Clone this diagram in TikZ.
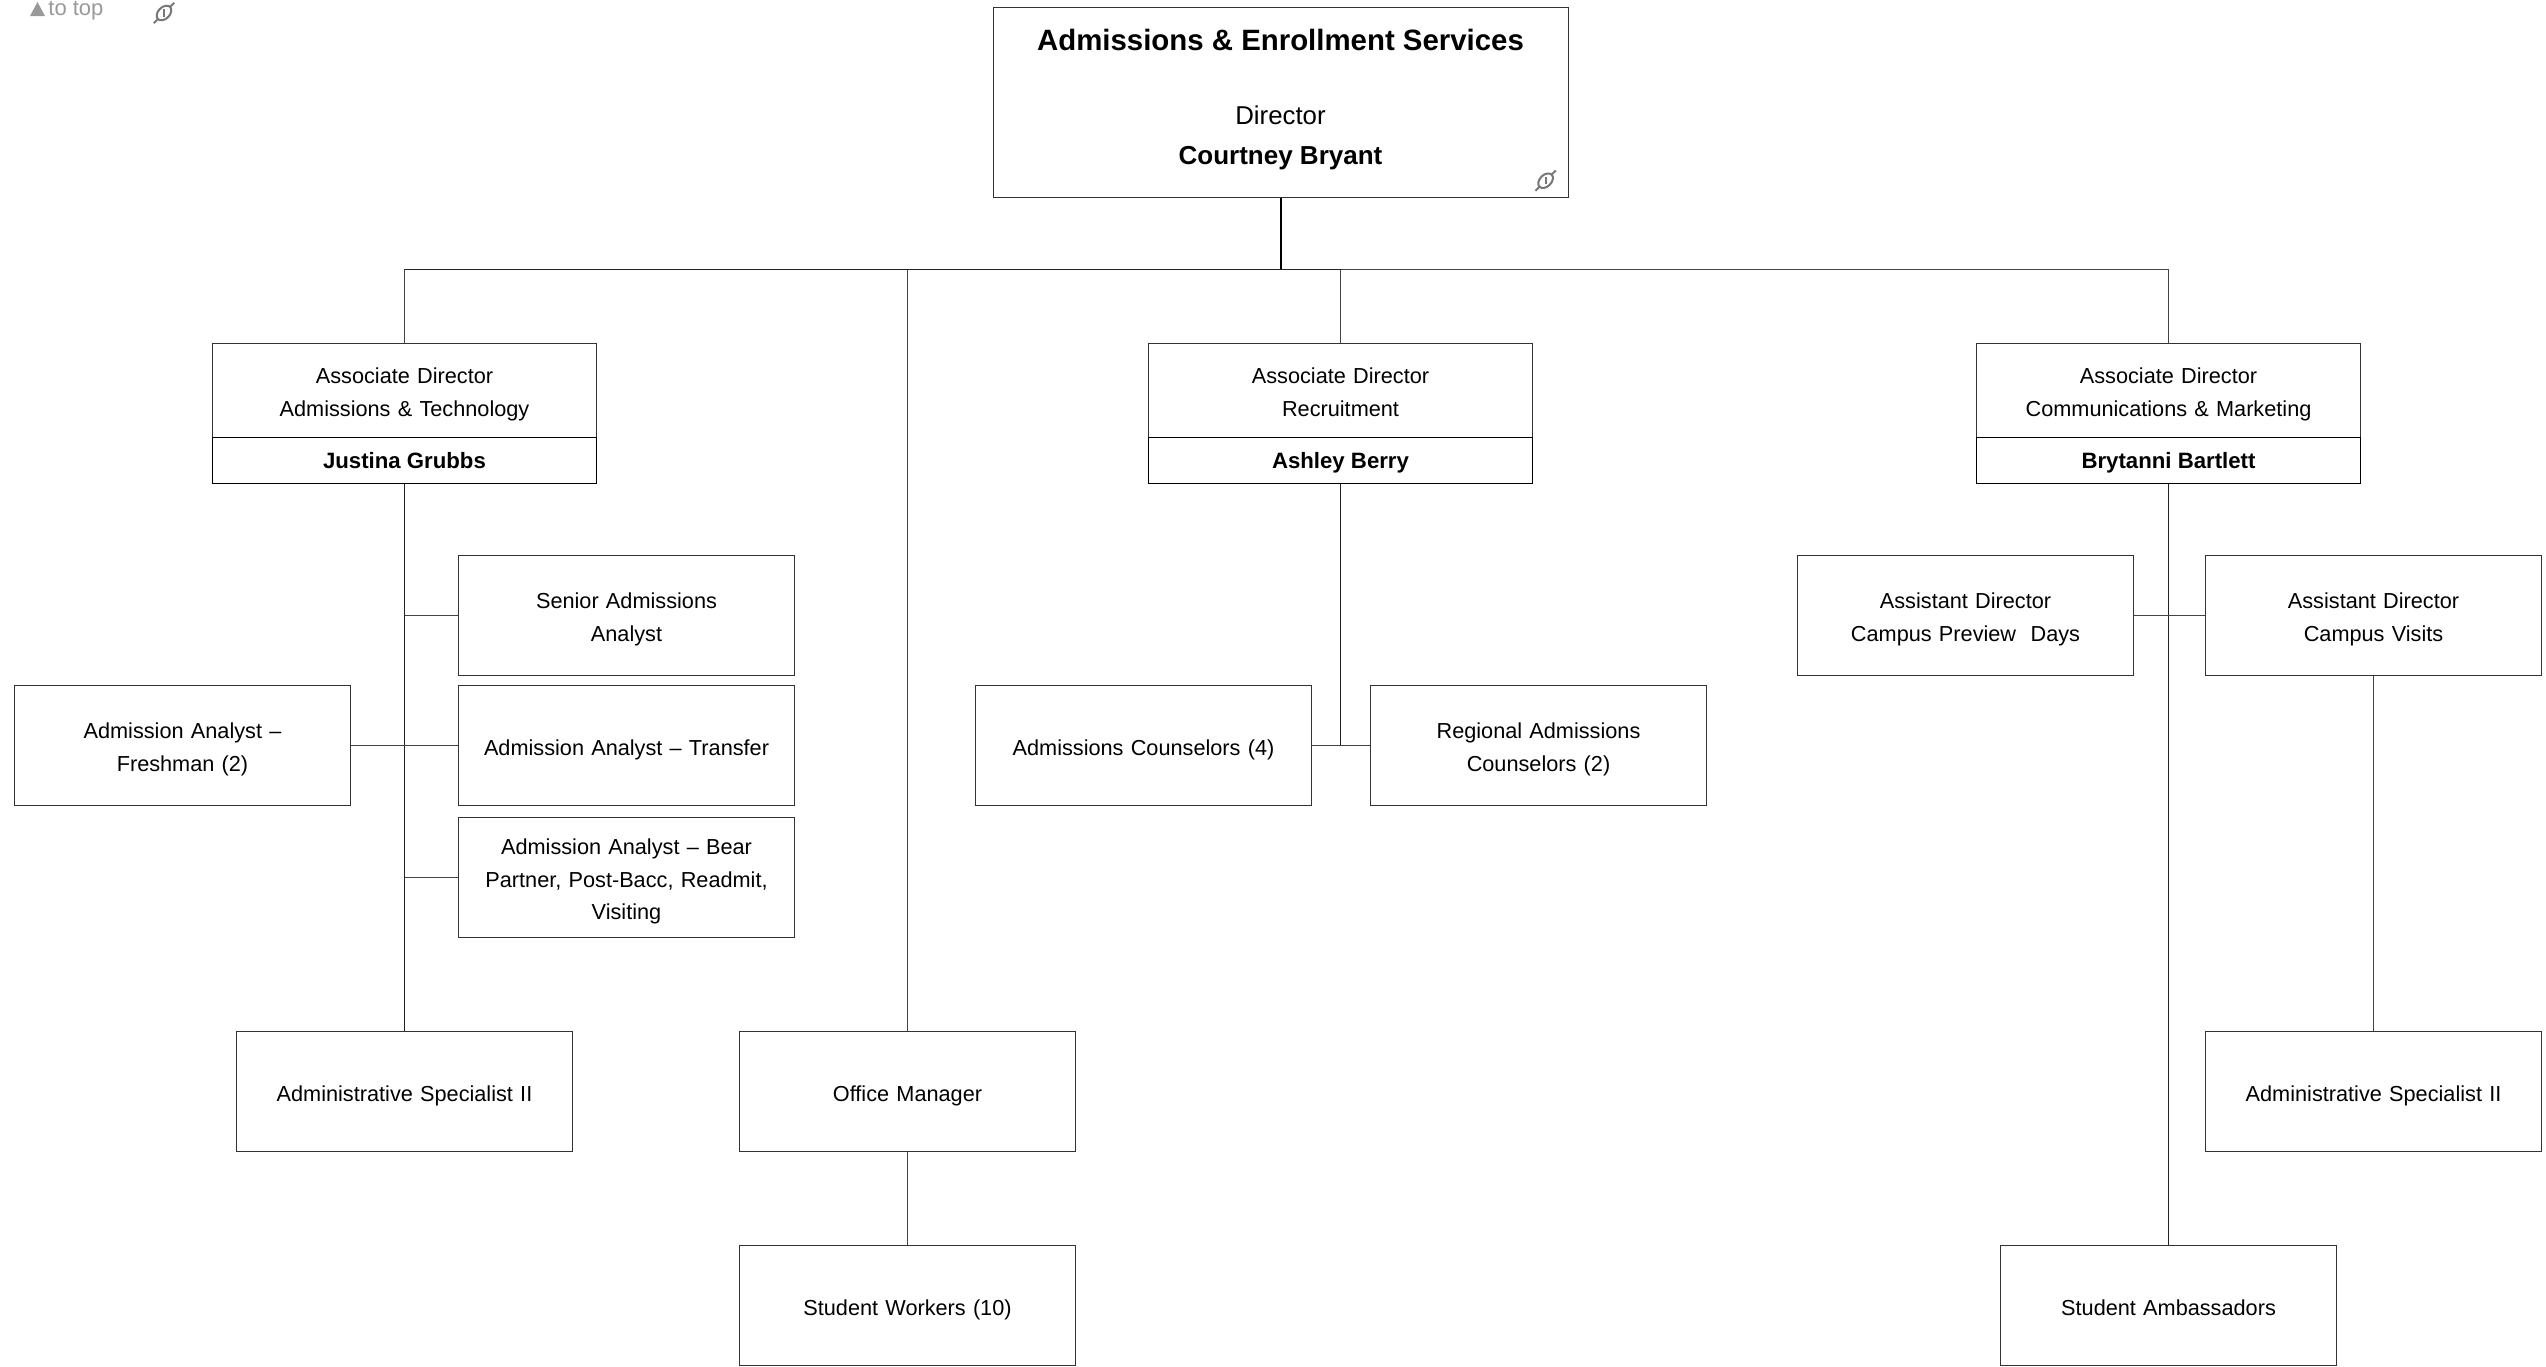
\documentclass[tikz,border=0pt]{standalone}
\usepackage{fontspec}
\setmainfont{Liberation Sans}
\newcommand\topstrut{\rule{0pt}{13pt}}
\newcommand\botstrut{\rule[-3.4pt]{0pt}{3.4pt}}
\begin{document}
\begin{tikzpicture}[x=0.5pt,y=-0.5pt,
  box/.style={draw=boxc,line width=0.65pt,fill=white,align=center,inner sep=0pt,font=\fontsize{10.85}{16.2}\selectfont,text=black,
    execute at begin node=\topstrut,execute at end node=\botstrut},
  std/.style={box,minimum width=168pt,minimum height=60pt,text width=160pt},
  adtitle/.style={box,minimum width=192pt,minimum height=47pt,text width=185pt},
  adname/.style={box,draw=black,minimum width=192pt,minimum height=23pt,inner sep=0pt,font=\fontsize{11.1}{14}\selectfont\bfseries,
    execute at begin node=,execute at end node=,text height=11pt,text depth=3pt},
  dirbox/.style={box,minimum width=287.5pt,minimum height=95pt,execute at begin node=,execute at end node=},
  plain/.style={inner sep=0pt,text=black,anchor=base},
  link/.style={draw=linec,line width=0.65pt},
  trunk/.style={draw=trunkc,line width=0.7pt},
  main/.style={draw=black,line width=1pt},
  greyt/.style={inner sep=0pt,text=grayt,font=\fontsize{11}{13}\selectfont},
  pics/linkicon/.style={code={
    \begin{scope}[line width=1pt,draw=iconc,rotate=45]
      \draw (0,0) ellipse (4.3pt and 2.9pt);
      \draw (-4.3pt,0) -- (-7.2pt,0);
      \draw (4.3pt,0) -- (7.2pt,0);
      \draw (-1.3pt,-1.3pt) -- (1.3pt,1.3pt);
    \end{scope}
  }}
]
\definecolor{boxc}{HTML}{333333}
\definecolor{linec}{HTML}{444444}
\definecolor{trunkc}{HTML}{222222}
\definecolor{grayt}{HTML}{999999}
\definecolor{iconc}{HTML}{777777}
\useasboundingbox (0,0) rectangle (2546,1366);

\coordinate (bus) at (1281,269.5);

% boxes
\node[dirbox] (dir) at (1281,102.5) {};
\node[plain,font=\fontsize{14.7}{18}\selectfont\bfseries] (dirtitle) at (1280.5,50) {Admissions \& Enrollment Services};
\node[plain,font=\fontsize{12.9}{15}\selectfont] (dirrole) at (1280.5,124.5) {Director};
\node[plain,font=\fontsize{13}{15}\selectfont\bfseries] (dirname) at (1280.5,164) {Courtney Bryant};

\node[adtitle] (adlt) at (404.5,390.5) {Associate Director\\Admissions \& Technology};
\node[adname] (adln) at (404.5,460.5) {Justina Grubbs};
\node[adtitle] (adrt) at (1340.5,390.5) {Associate Director\\Recruitment};
\node[adname] (adrn) at (1340.5,460.5) {Ashley Berry};
\node[adtitle] (adct) at (2168.5,390.5) {Associate Director\\Communications \& Marketing};
\node[adname] (adcn) at (2168.5,460.5) {Brytanni Bartlett};

\node[std] (senior) at (626.5,615.5) {Senior Admissions\\Analyst};
\node[std] (fresh) at (182.5,745.5) {Admission Analyst --\\Freshman (2)};
\node[std] (transfer) at (626.5,745.5) {Admission Analyst -- Transfer};
\node[std] (bear) at (626.5,877.5) {Admission Analyst -- Bear\\Partner, Post-Bacc, Readmit,\\Visiting};
\node[std] (specl) at (404.5,1091.5) {Administrative Specialist II};
\node[std] (office) at (907.5,1091.5) {Office Manager};
\node[std] (workers) at (907.5,1305.5) {Student Workers (10)};
\node[std] (couns) at (1143.5,745.5) {Admissions Counselors (4)};
\node[std] (regional) at (1538.5,745.5) {Regional Admissions\\Counselors (2)};
\node[std] (cpd) at (1965.5,615.5) {Assistant Director\\Campus Preview\ \ Days};
\node[std] (visits) at (2373.5,615.5) {Assistant Director\\Campus Visits};
\node[std] (specr) at (2373.5,1091.5) {Administrative Specialist II};
\node[std] (amb) at (2168.5,1305.5) {Student Ambassadors};

% connectors
\draw[main] (dir.south) -- (dir.south |- bus);
\draw[link] (adlt.north) |- (bus);
\draw[link] (adct.north) |- (bus);
\draw[link] (adrt.north) |- (bus);
\draw[link] (office.north) |- (bus);
\draw[trunk] (adlt.north |- bus) -- (adrt.north |- bus);
\draw[trunk] (adln.south) -- (specl.north);
\draw[link] (senior.west) -- (senior.west -| adln.south);
\draw[link] (fresh.east) -- (transfer.west);
\draw[link] (bear.west) -- (bear.west -| adln.south);
\draw[link] (office.south) -- (workers.north);
\draw[trunk] (adrn.south) -- (adrn.south |- couns.east);
\draw[link] (couns.east) -- (regional.west);
\draw[trunk] (adcn.south) -- (amb.north);
\draw[link] (cpd.east) -- (visits.west);
\draw[link] (visits.south) -- (specr.north);

% top-left marks
\fill[grayt] (30,16) -- (45,16) -- (37.5,2) -- cycle;
\node[greyt,anchor=base west] (totop) at (48,15) {to top};
\pic at (164,13) {linkicon};
\pic at (1545.6,180.7) {linkicon};
\end{tikzpicture}
\end{document}
